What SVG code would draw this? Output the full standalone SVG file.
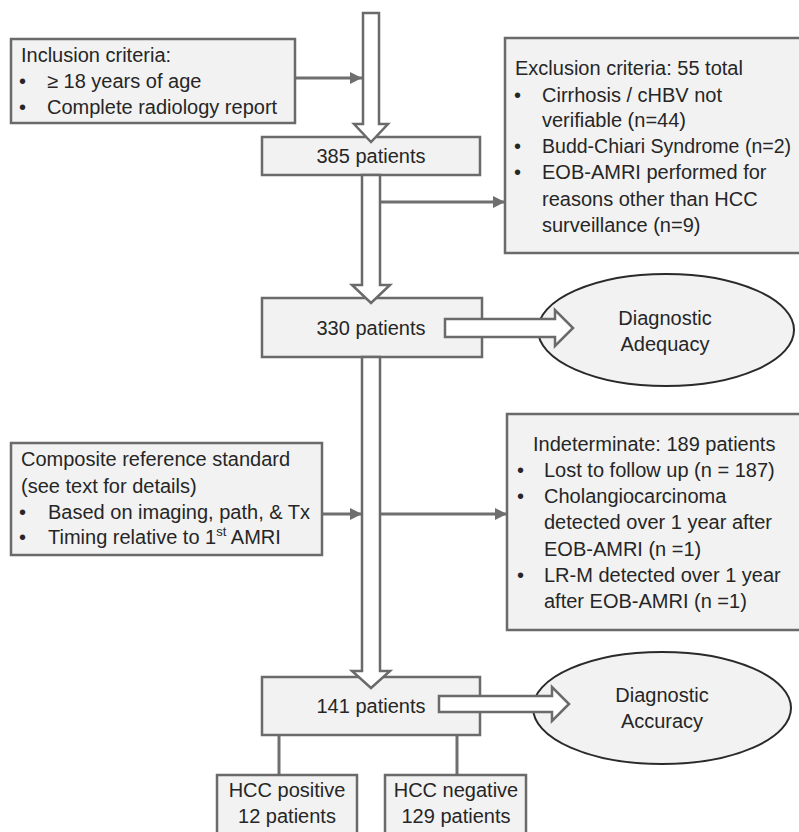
<svg xmlns="http://www.w3.org/2000/svg" width="799" height="832" viewBox="0 0 799 832">
<defs>
<style>
.box{fill:#f2f2f2;stroke:#6a6a6a;stroke-width:2.5}
.ell{fill:#f2f2f2;stroke:#2a2a2a;stroke-width:2}
.big{fill:#ffffff;stroke:#6a6a6a;stroke-width:2.5;stroke-linejoin:miter}
.ln{fill:none;stroke:#6f6f6f;stroke-width:3}
.t{font-family:"Liberation Sans",Arial,sans-serif;font-size:20px;fill:#262626}
.c{text-anchor:middle}
</style>
<marker id="ah" viewBox="0 0 10 10" refX="10" refY="5" markerWidth="4" markerHeight="4" orient="auto" markerUnits="strokeWidth">
<path d="M0,0 L10,5 L0,10 Z" fill="#6f6f6f"/>
</marker>
</defs>
<rect width="799" height="832" fill="#ffffff"/>

<g id="connectors">
<line class="ln" x1="295" y1="78" x2="362" y2="78" marker-end="url(#ah)"/>
<line class="ln" x1="380" y1="202" x2="505" y2="202" marker-end="url(#ah)"/>
<line class="ln" x1="322" y1="514" x2="362" y2="514" marker-end="url(#ah)"/>
<line class="ln" x1="380" y1="514" x2="507" y2="514" marker-end="url(#ah)"/>
<line class="ln" x1="279" y1="735" x2="279" y2="775"/>
<line class="ln" x1="457" y1="735" x2="457" y2="775"/>
</g>

<g id="node-inclusion">
<rect class="box" x="11" y="39" width="284" height="84"/>
<text class="t" x="21" y="62">Inclusion criteria:</text>
<text class="t" x="19" y="88">•</text>
<text class="t" x="47" y="88">≥ 18 years of age</text>
<text class="t" x="19" y="114">•</text>
<text class="t" x="47" y="114">Complete radiology report</text>
</g>

<g id="node-exclusion">
<rect class="box" x="505" y="38" width="310" height="215"/>
<text class="t" x="515" y="75">Exclusion criteria: 55 total</text>
<text class="t" x="514" y="102">•</text>
<text class="t" x="542" y="102">Cirrhosis / cHBV not</text>
<text class="t" x="542" y="127">verifiable (n=44)</text>
<text class="t" x="514" y="153">•</text>
<text class="t" x="542" y="153" textLength="249" lengthAdjust="spacingAndGlyphs">Budd-Chiari Syndrome (n=2)</text>
<text class="t" x="514" y="179">•</text>
<text class="t" x="542" y="179">EOB-AMRI performed for</text>
<text class="t" x="542" y="206">reasons other than HCC</text>
<text class="t" x="542" y="232">surveillance (n=9)</text>
</g>

<g id="node-385">
<rect class="box" x="262" y="137" width="218" height="38"/>
<text class="t c" x="371" y="163">385 patients</text>
</g>

<g id="node-330">
<rect class="box" x="262" y="298" width="220" height="59"/>
<text class="t c" x="371" y="335">330 patients</text>
</g>

<g id="node-adequacy">
<ellipse class="ell" cx="666" cy="330" rx="128" ry="56"/>
<text class="t c" x="665" y="325">Diagnostic</text>
<text class="t c" x="665" y="351">Adequacy</text>
</g>

<g id="node-composite">
<rect class="box" x="11" y="443" width="311" height="112"/>
<text class="t" x="21" y="466">Composite reference standard</text>
<text class="t" x="21" y="493">(see text for details)</text>
<text class="t" x="19" y="519">•</text>
<text class="t" x="48" y="519">Based on imaging, path, &amp; Tx</text>
<text class="t" x="19" y="544">•</text>
<text class="t" x="48" y="544">Timing relative to 1<tspan font-size="13" dy="-8">st</tspan><tspan dy="8"> AMRI</tspan></text>
</g>

<g id="node-indeterminate">
<rect class="box" x="507" y="414" width="310" height="216"/>
<text class="t" x="533" y="451">Indeterminate: 189 patients</text>
<text class="t" x="517" y="477">•</text>
<text class="t" x="544" y="477">Lost to follow up (n = 187)</text>
<text class="t" x="517" y="503">•</text>
<text class="t" x="544" y="503">Cholangiocarcinoma</text>
<text class="t" x="544" y="529">detected over 1 year after</text>
<text class="t" x="544" y="556">EOB-AMRI (n =1)</text>
<text class="t" x="517" y="582">•</text>
<text class="t" x="544" y="582">LR-M detected over 1 year</text>
<text class="t" x="544" y="608">after EOB-AMRI (n =1)</text>
</g>

<g id="node-141">
<rect class="box" x="262" y="677" width="218" height="58"/>
<text class="t c" x="371" y="713">141 patients</text>
</g>

<g id="node-accuracy">
<ellipse class="ell" cx="662" cy="708" rx="129" ry="56"/>
<text class="t c" x="662" y="702">Diagnostic</text>
<text class="t c" x="662" y="728">Accuracy</text>
</g>

<g id="node-hcc-pos">
<rect class="box" x="217" y="775" width="140" height="70"/>
<text class="t c" x="287" y="797">HCC positive</text>
<text class="t c" x="287" y="823">12 patients</text>
</g>

<g id="node-hcc-neg">
<rect class="box" x="385" y="775" width="141" height="70"/>
<text class="t c" x="456" y="797">HCC negative</text>
<text class="t c" x="456" y="823">129 patients</text>
</g>

<g id="flow-arrows">
<path class="big" d="M363,13 L379,13 L379,124 L388,124 L371,142 L354,124 L363,124 Z"/>
<path class="big" d="M362,175 L380,175 L380,285 L390,285 L371,303 L352,285 L362,285 Z"/>
<path class="big" d="M362,357 L380,357 L380,671 L390,671 L371,688 L352,671 L362,671 Z"/>
<path class="big" d="M445,319 L555,319 L555,310 L573,328 L555,346 L555,337 L445,337 Z"/>
<path class="big" d="M439,696 L552,696 L552,687 L569,704 L552,721 L552,712 L439,712 Z"/>
</g>
</svg>
